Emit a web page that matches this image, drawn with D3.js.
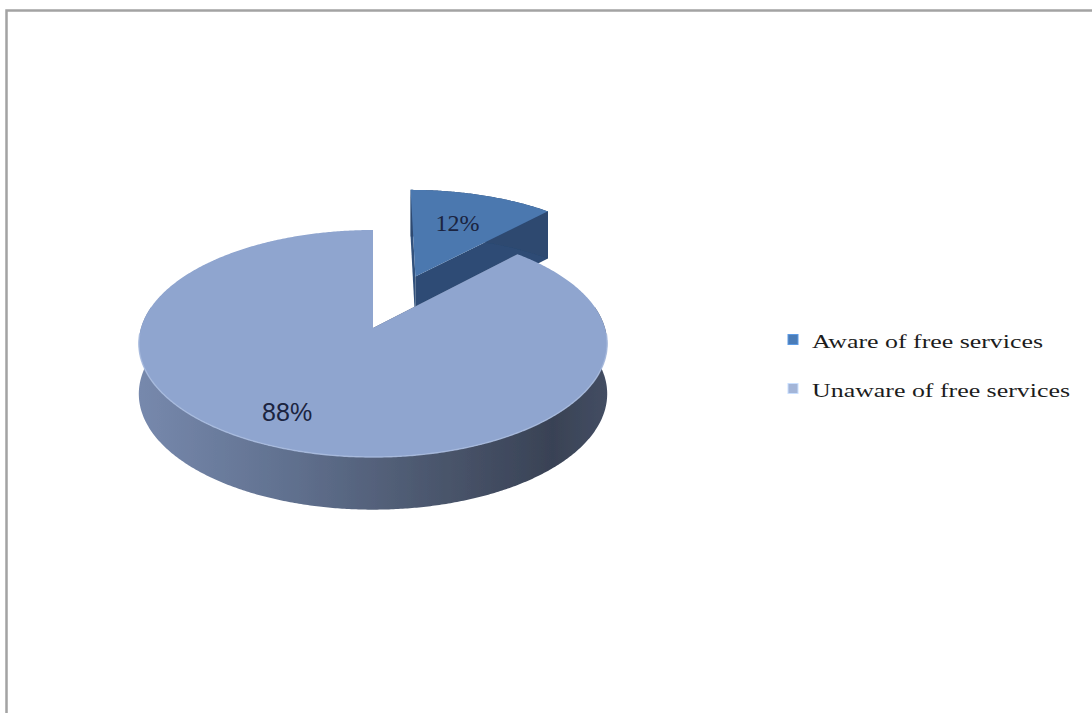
<!DOCTYPE html>
<html>
<head>
<meta charset="utf-8">
<script src="https://cdn.jsdelivr.net/npm/d3@7"></script>
<style>
  html, body { margin: 0; padding: 0; background: #ffffff; }
  svg { display: block; }
</style>
</head>
<body>
<svg id="chart" width="1092" height="713"></svg>
<script>
// Awareness of free services (share of respondents, %)
const categories = ['Aware of free services', 'Unaware of free services'];
const values = [12, 88];
const valueLabels = ['12%', '88%'];

const topColors = ['#4b78af', '#8fa5cf'];
const markerColors = ['#4a7cb8', '#a3b5d8'];

const svg = d3.select('#chart');
const defs = svg.append('defs');

// frame around the chart area
svg.append('path')
  .attr('d', 'M6.5,720 L6.5,10.5 L1100,10.5')
  .attr('fill', 'none')
  .attr('stroke', '#a3a3a3')
  .attr('stroke-width', 2.5);

// 3D pie projection (tilted disc with mild perspective)
const CX = 373, CY = 328;   // projected centre of the disc
const A = 232, B = 111.4;   // horizontal / depth radii
const K = 0.1366;           // perspective strength
const T = 50, K2 = 0.05;    // wall thickness
const EXPLODE = [0.53, 0];  // radial offset per slice (unit radius)

function proj(u, v, h) {
  const D = 1 - K * v;
  return [CX + A * u / D, CY + B * v / D + h * T / (1 - K2 * v)];
}
function pt(th, r, off, h) {
  return proj(r * Math.sin(th) + off.u, -r * Math.cos(th) + off.v, h);
}

const arcs = d3.pie().sort(null).value(d => d)(values);

// horizontal shading of the outer wall, lighter on the left
const wallGrad = defs.append('linearGradient')
  .attr('id', 'wallShade')
  .attr('gradientUnits', 'userSpaceOnUse')
  .attr('x1', CX - A - 4).attr('y1', 0)
  .attr('x2', CX + A + 4).attr('y2', 0);
[[0, '#7789ad'], [0.34, '#5f6f8d'], [0.6, '#4d5970'], [0.88, '#394255'], [1, '#444e63']]
  .forEach(([o, c]) => wallGrad.append('stop').attr('offset', o).attr('stop-color', c));

defs.append('filter').attr('id', 'soft')
  .append('feGaussianBlur').attr('stdDeviation', 0.6);

const line = d3.line();
const pieG = svg.append('g').attr('filter', 'url(#soft)');

// draw the exploded (far) slice first, then the main slice over it
const order = arcs.map((d, i) => i).sort((a, b) => EXPLODE[b] - EXPLODE[a]);

order.forEach(i => {
  const d = arcs[i];
  const mid = (d.startAngle + d.endAngle) / 2;
  const off = { u: EXPLODE[i] * Math.sin(mid), v: -EXPLODE[i] * Math.cos(mid) };
  const g = pieG.append('g').attr('class', 'slice');
  const exploded = EXPLODE[i] > 0;
  const steps = Math.max(12, Math.ceil((d.endAngle - d.startAngle) / (Math.PI / 360)));
  const angleAt = s => d.startAngle + (d.endAngle - d.startAngle) * s / steps;

  // radial cut faces (behind the top face)
  [d.startAngle, d.endAngle].forEach((th, j) => {
    const p = [pt(0, 0, off, 0), pt(th, 1, off, 0), pt(th, 1, off, 1), pt(0, 0, off, 1)];
    const fill = exploded ? (j === 0 ? '#31517c' : '#2d4b74') : '#4b5872';
    g.append('path').attr('d', line(p) + 'Z').attr('fill', fill);
  });

  // outer curved wall: only the part facing the viewer
  let run = [];
  const runs = [];
  for (let s = 0; s <= steps; s++) {
    const th = angleAt(s);
    if (-Math.cos(th) + off.v > -0.2 || exploded) run.push(th);
    else if (run.length) { runs.push(run); run = []; }
  }
  if (run.length) runs.push(run);
  runs.forEach(r => {
    const topEdge = r.map(th => pt(th, 1, off, 0));
    const botEdge = r.map(th => pt(th, 1, off, 1)).reverse();
    g.append('path')
      .attr('d', line(topEdge.concat(botEdge)) + 'Z')
      .attr('fill', exploded ? '#2d4870' : 'url(#wallShade)');
  });

  // top face
  const topPts = [pt(0, 0, off, 0)];
  for (let s = 0; s <= steps; s++) topPts.push(pt(angleAt(s), 1, off, 0));
  g.append('path')
    .attr('d', line(topPts) + 'Z')
    .attr('fill', topColors[i]);

  // light rim along the front edge of the top face
  if (!exploded) {
    const rim = [];
    for (let s = 0; s <= steps; s++) {
      const th = angleAt(s);
      if (-Math.cos(th) > 0.05) rim.push(pt(th, 1, off, 0));
    }
    g.append('path')
      .attr('d', line(rim))
      .attr('fill', 'none')
      .attr('stroke', '#a9bcdf')
      .attr('stroke-width', 1.4)
      .attr('opacity', 0.85);
  }
});

// value labels
const labelRadius = [0.6, 0.775];
const labelTurn = [0, 4 * Math.PI / 180];
const labelFonts = ['"Liberation Serif", "Times New Roman", serif', '"Liberation Sans", Arial, sans-serif'];
const labelSizes = [24, 25];
arcs.forEach((d, i) => {
  const mid = (d.startAngle + d.endAngle) / 2;
  const off = { u: EXPLODE[i] * Math.sin(mid), v: -EXPLODE[i] * Math.cos(mid) };
  const [x, y] = pt(mid + labelTurn[i], labelRadius[i], off, 0);
  svg.append('text')
    .attr('x', x)
    .attr('y', y)
    .attr('text-anchor', 'middle')
    .attr('dominant-baseline', 'middle')
    .attr('font-family', labelFonts[i])
    .attr('font-size', labelSizes[i])
    .attr('fill', '#1b2440')
    .text(valueLabels[i]);
});

// legend
const legendY = d3.scalePoint().domain(categories).range([340, 389]);
const legendWidths = [231, 258];
const legend = svg.append('g').attr('class', 'legend');
categories.forEach((c, i) => {
  const y = legendY(c);
  legend.append('rect')
    .attr('x', 788).attr('y', y - 5.5)
    .attr('width', 10).attr('height', 10)
    .attr('fill', markerColors[i])
    .attr('stroke', d3.color(markerColors[i]).brighter(0.6))
    .attr('stroke-width', 1);
  legend.append('text')
    .attr('x', 812)
    .attr('y', y + 7.5)
    .attr('font-family', '"Liberation Serif", "Times New Roman", serif')
    .attr('font-size', 19)
    .attr('fill', '#1c1c1c')
    .attr('textLength', legendWidths[i])
    .attr('lengthAdjust', 'spacingAndGlyphs')
    .text(c);
});
</script>
</body>
</html>
